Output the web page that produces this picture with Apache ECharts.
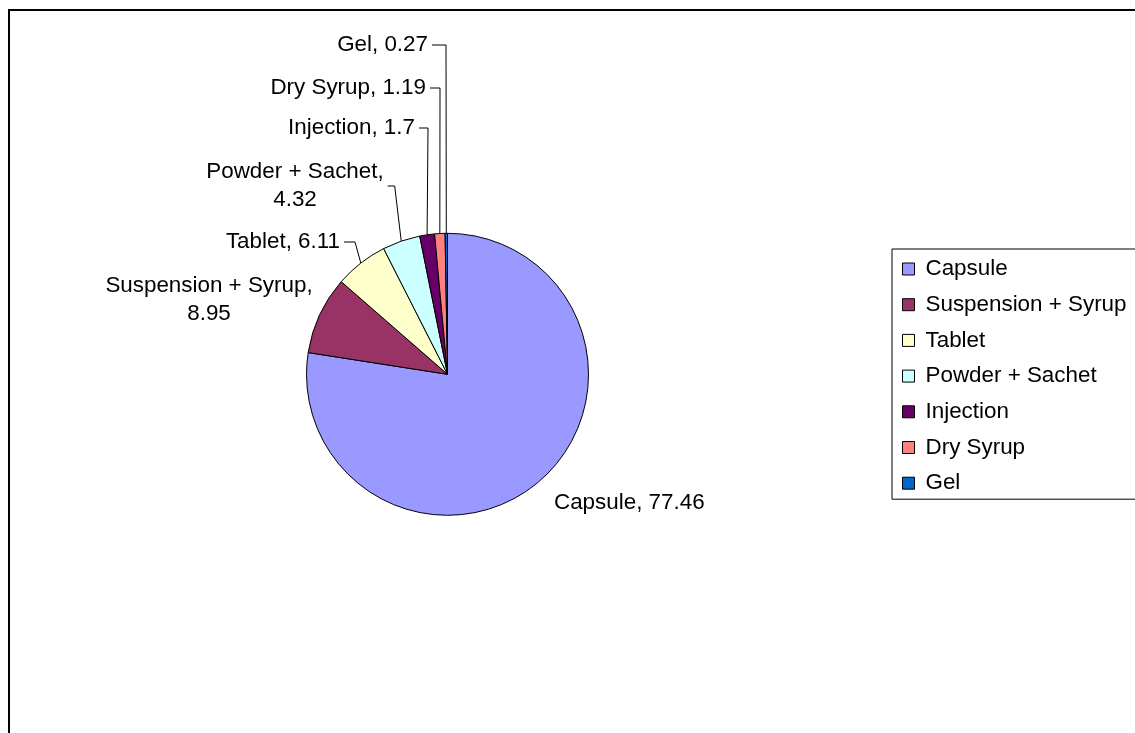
<!DOCTYPE html>
<html>
<head>
<meta charset="utf-8">
<title>Dosage forms</title>
<script src="https://cdn.jsdelivr.net/npm/echarts@6/dist/echarts.min.js"></script>
<style>
  html, body { margin: 0; padding: 0; background: #fff; }
  #chart { width: 1135px; height: 733px; }
</style>
</head>
<body>
<div id="chart"></div>
<script>
// Share of each dosage form (%)
const categories = ['Capsule', 'Suspension + Syrup', 'Tablet', 'Powder + Sachet', 'Injection', 'Dry Syrup', 'Gel'];
const shares = [77.46, 8.95, 6.11, 4.32, 1.7, 1.19, 0.27];
const sliceColors = ['#9999FF', '#993366', '#FFFFCC', '#CCFFFF', '#660066', '#FF8080', '#0066CC'];

// Where each slice label sits: anchor point, text alignment, leader line tail length
const labelPlacement = [
  { x: 550, y: 503, align: 'left',   line: false, tail: 0 },
  { x: 209, y: 300, align: 'center', line: false, tail: 0 },
  { x: 344, y: 242, align: 'right',  line: true,  tail: 11 },
  { x: 295, y: 186, align: 'center', line: true,  tail: 7 },
  { x: 419, y: 128, align: 'right',  line: true,  tail: 9 },
  { x: 430, y: 88,  align: 'right',  line: true,  tail: 10 },
  { x: 432, y: 45,  align: 'right',  line: true,  tail: 14 }
];

const FONT = "'Liberation Sans', Arial, sans-serif";
const FONT_SIZE = 22.4;

const chart = echarts.init(document.getElementById('chart'), null, { renderer: 'canvas' });

const pieData = categories.map((name, i) => ({
  name: name,
  value: shares[i],
  itemStyle: { color: sliceColors[i] },
  labelLine: { show: labelPlacement[i].line }
}));

// Right edge of a placed label, from its anchor, alignment and width
function labelRightEdge(place, width) {
  if (place.align === 'right') return place.x;
  if (place.align === 'center') return place.x + width / 2;
  return place.x + width;
}

chart.setOption({
  animation: false,
  backgroundColor: '#ffffff',
  graphic: [{
    type: 'rect',
    z: -1,
    shape: { x: 9, y: 10, width: 1400, height: 900 },
    style: { fill: 'none', stroke: '#000000', lineWidth: 2 }
  }],
  legend: {
    orient: 'vertical',
    left: 892,
    top: 249,
    padding: [9, 30, 5, 10],
    itemGap: 13.7,
    itemWidth: 12,
    itemHeight: 12,
    icon: 'rect',
    backgroundColor: '#ffffff',
    borderColor: '#000000',
    borderWidth: 1,
    borderRadius: 0,
    selectedMode: false,
    itemStyle: { borderColor: '#000000', borderWidth: 1 },
    textStyle: {
      color: '#000000',
      fontFamily: FONT,
      fontSize: FONT_SIZE,
      lineHeight: 22,
      padding: [0, 0, 0, 6]
    },
    data: categories
  },
  series: [{
    type: 'pie',
    center: [447.5, 374.3],
    radius: [0, 141],
    startAngle: 90,
    clockwise: true,
    avoidLabelOverlap: false,
    emphasis: { disabled: true },
    itemStyle: { borderColor: '#000000', borderWidth: 1 },
    label: {
      show: true,
      position: 'outside',
      color: '#000000',
      fontFamily: FONT,
      fontSize: FONT_SIZE,
      lineHeight: 28,
      padding: [0, 4],
      formatter: function (p) {
        const text = p.name + ', ' + p.value;
        return text.length > 18 ? p.name + ',\n' + p.value : text;
      }
    },
    labelLine: {
      show: true,
      length: 10,
      length2: 10,
      lineStyle: { color: '#000000', width: 1 }
    },
    labelLayout: function (params) {
      const place = labelPlacement[params.dataIndex];
      const result = {
        x: place.x,
        y: place.y,
        align: place.align,
        verticalAlign: 'middle'
      };
      const pts = params.labelLinePoints;
      if (place.line && pts && pts.length) {
        // Leader: from the slice's outer edge up to a short horizontal tick beside the label
        const edge = pts[0];
        const right = labelRightEdge(place, params.labelRect.width);
        result.labelLinePoints = [
          [edge[0], edge[1]],
          [right + place.tail, place.y],
          [right, place.y]
        ];
      }
      return result;
    },
    data: pieData
  }]
});
</script>
</body>
</html>
